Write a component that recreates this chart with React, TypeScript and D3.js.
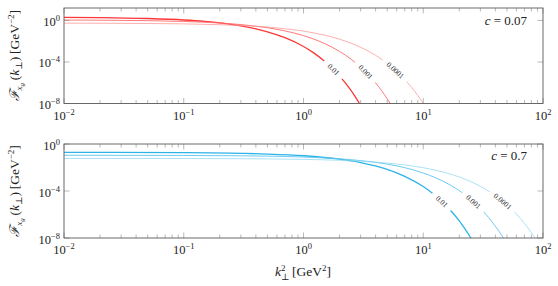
import React, { useRef, useEffect } from "react";
import * as d3 from "d3";

const width = 558;
const height = 286;
const xLeft = 64;
const xRight = 543;
const serif = "'Liberation Serif', 'DejaVu Serif', serif";

// k_perp^2 [GeV^2] and F values, top panel (c = 0.07)
const kTop01 = [0.01, 0.02, 0.05, 0.1, 0.15, 0.2, 0.3, 0.4, 0.5, 0.7, 1, 1.2, 1.5, 1.8, 2, 2.2, 2.5, 2.7, 3, 3.3];
const fTop01 = [2.0, 1.9, 1.54, 1.11, 0.8, 0.58, 0.3, 0.156, 0.081, 0.022, 0.0031, 8.4e-4, 1.17e-4, 1.66e-5, 4.4e-6, 1.21e-6, 1.7e-7, 4.6e-8, 6.5e-9, 9.5e-10];
const kTop001 = [0.01, 0.02, 0.05, 0.1, 0.2, 0.3, 0.4, 0.5, 0.7, 1, 1.2, 1.5, 2, 2.5, 3, 3.5, 4, 4.5, 5, 6];
const fTop001 = [1.1, 1.06, 0.96, 0.8, 0.57, 0.4, 0.28, 0.198, 0.099, 0.0346, 0.0172, 0.006, 0.00105, 1.82e-4, 3.2e-5, 5.5e-6, 9.6e-7, 1.68e-7, 2.9e-8, 8.8e-10];
const kTop0001 = [0.01, 0.02, 0.05, 0.1, 0.2, 0.3, 0.5, 0.7, 1, 1.5, 2, 3, 4, 5, 6, 7, 8, 9, 10, 11];
const fTop0001 = [0.55, 0.54, 0.51, 0.47, 0.39, 0.33, 0.23, 0.16, 0.094, 0.038, 0.0157, 0.0026, 4.4e-4, 7.4e-5, 1.25e-5, 2.1e-6, 3.5e-7, 5.9e-8, 9.8e-9, 1.6e-9];

// bottom panel (c = 0.7)
const kBot01 = [0.01, 0.1, 0.3, 0.5, 1, 2, 3, 5, 7, 10, 12, 15, 17, 20, 22, 25, 28];
const fBot01 = [0.195, 0.182, 0.16, 0.139, 0.0996, 0.051, 0.026, 0.0068, 0.00177, 2.4e-4, 6.2e-5, 8.2e-6, 2.1e-6, 2.9e-7, 7.4e-8, 1.0e-8, 1.3e-9];
const kBot001 = [0.01, 0.1, 0.3, 0.5, 1, 2, 3, 5, 7, 10, 15, 20, 25, 30, 35, 40, 45, 50];
const fBot001 = [0.11, 0.106, 0.099, 0.0925, 0.078, 0.055, 0.0388, 0.0194, 0.0097, 0.0034, 6.0e-4, 1.07e-4, 1.87e-5, 3.3e-6, 5.8e-7, 1.0e-7, 1.8e-8, 3.2e-9];
const kBot0001 = [0.01, 0.1, 0.3, 0.5, 1, 2, 3, 5, 7, 10, 15, 20, 30, 40, 50, 60, 70, 80, 90, 100];
const fBot0001 = [0.059, 0.058, 0.056, 0.054, 0.049, 0.041, 0.034, 0.0238, 0.0165, 0.0096, 0.0039, 0.00156, 2.5e-4, 4.1e-5, 6.6e-6, 1.08e-6, 1.75e-7, 2.8e-8, 4.6e-9, 7.5e-10];

const curveNames = ["0.01", "0.001", "0.0001"];
const labelKTop = [1.78, 3.3, 5.85];
const labelKBot = [14.3, 26.2, 46.0];

const xTicks = [0.01, 0.1, 1, 10, 100];
const xTickExp = ["\u22122", "\u22121", "0", "1", "2"];
const yTicks = [1, 1e-4, 1e-8];
const yTickExp = ["0", "\u22124", "\u22128"];

const redColors = ["#ff3636", "#ff6a6a", "#ff9494"];
const blueColors = ["#2db3e8", "#5ec5ee", "#90d7f3"];
const lineWidths = [1.3, 0.9, 0.75];

const panels = [
  {
    top: 8, bottom: 103.5, yMax: Math.pow(10, 1.2), c: "0.07", cBase: 24.5, tickBase: 120,
    colors: redColors, labelK: labelKTop,
    series: [[kTop01, fTop01], [kTop001, fTop001], [kTop0001, fTop0001]],
  },
  {
    top: 144, bottom: 238, yMax: 1, c: "0.7", cBase: 159.5, tickBase: 254,
    colors: blueColors, labelK: labelKBot,
    series: [[kBot01, fBot01], [kBot001, fBot001], [kBot0001, fBot0001]],
  },
];

// log-log interpolation along the read points
const interp = (ks: number[], fs: number[], k: number) => {
  let i = 0;
  while (i < ks.length - 2 && ks[i + 1] < k) i++;
  const t = (Math.log(k) - Math.log(ks[i])) / (Math.log(ks[i + 1]) - Math.log(ks[i]));
  return Math.exp(Math.log(fs[i]) + t * (Math.log(fs[i + 1]) - Math.log(fs[i])));
};

const App = () => {
  const ref = useRef<SVGSVGElement>(null);

  useEffect(() => {
    const svg = d3.select(ref.current);
    svg.selectAll("*").remove();
    draw(svg);
  }, []);

  const draw = (svg: any) => {
    const x = d3.scaleLog().domain([0.01, 100]).range([xLeft, xRight]);

    panels.forEach((p, pi) => {
      const y = d3.scaleLog().domain([1e-8, p.yMax]).range([p.bottom, p.top]);
      const clipId = "clip" + pi;
      svg.append("clipPath").attr("id", clipId)
        .append("rect")
        .attr("x", xLeft).attr("y", p.top)
        .attr("width", xRight - xLeft).attr("height", p.bottom - p.top);

      const g = svg.append("g");
      const line = d3.line<number[]>()
        .x((d) => x(d[0]))
        .y((d) => y(d[1]))
        .curve(d3.curveMonotoneX);

      p.series.forEach(([ks, fs], i) => {
        g.append("path")
          .datum(ks.map((k, j) => [k, fs[j]]))
          .attr("clip-path", `url(#${clipId})`)
          .attr("fill", "none")
          .attr("stroke", p.colors[i])
          .attr("stroke-width", lineWidths[i])
          .attr("d", line);
      });

      // curve labels cutting the lines
      p.series.forEach(([ks, fs], i) => {
        const kl = p.labelK[i];
        const px = x(kl);
        const py = y(interp(ks, fs, kl));
        const ax = x(kl / 1.1), ay = y(interp(ks, fs, kl / 1.1));
        const bx = x(kl * 1.1), by = y(interp(ks, fs, kl * 1.1));
        const ang = (Math.atan2(by - ay, bx - ax) * 180) / Math.PI;
        const lg = g.append("g").attr("transform", `translate(${px},${py}) rotate(${ang})`);
        const w = curveNames[i].length * 3.5 + 11;
        lg.append("rect").attr("x", -w / 2).attr("y", -4).attr("width", w).attr("height", 8).attr("fill", "#fff");
        lg.append("text")
          .attr("text-anchor", "middle")
          .attr("dy", "0.33em")
          .attr("font-family", serif)
          .attr("font-size", 7.5)
          .attr("fill", "#222")
          .text(curveNames[i]);
      });

      // ticks
      const tk = g.append("g").attr("stroke", "#8a8a8a").attr("stroke-width", 0.6);
      xTicks.forEach((t, i) => {
        if (i < xTicks.length - 1) {
          for (let m = 2; m <= 9; m++) {
            const xx = x(t * m);
            tk.append("line").attr("x1", xx).attr("x2", xx).attr("y1", p.bottom).attr("y2", p.bottom - 3.5);
            tk.append("line").attr("x1", xx).attr("x2", xx).attr("y1", p.top).attr("y2", p.top + 3.5);
          }
        }
        const xx = x(t);
        tk.append("line").attr("x1", xx).attr("x2", xx).attr("y1", p.bottom).attr("y2", p.bottom - 5.5);
        tk.append("line").attr("x1", xx).attr("x2", xx).attr("y1", p.top).attr("y2", p.top + 5.5);
      });
      yTicks.forEach((t) => {
        const yy = y(t);
        tk.append("line").attr("x1", xLeft).attr("x2", xLeft + 5.5).attr("y1", yy).attr("y2", yy);
        tk.append("line").attr("x1", xRight).attr("x2", xRight - 5.5).attr("y1", yy).attr("y2", yy);
      });

      g.append("rect")
        .attr("x", xLeft).attr("y", p.top)
        .attr("width", xRight - xLeft).attr("height", p.bottom - p.top)
        .attr("fill", "none").attr("stroke", "#5a5a5a").attr("stroke-width", 0.9);

      // tick labels
      xTicks.forEach((t, i) => {
        const tx = g.append("text")
          .attr("x", x(t)).attr("y", p.tickBase)
          .attr("text-anchor", "middle")
          .attr("font-family", serif).attr("font-size", 12.5).attr("fill", "#222");
        tx.append("tspan").text("10");
        tx.append("tspan").attr("dy", -5).attr("font-size", 8.5).text(xTickExp[i]);
      });
      yTicks.forEach((t, i) => {
        const ty = g.append("text")
          .attr("x", 60).attr("y", y(t) + 5.5)
          .attr("text-anchor", "end")
          .attr("font-family", serif).attr("font-size", 12.5).attr("fill", "#222");
        ty.append("tspan").text("10");
        ty.append("tspan").attr("dy", -5).attr("font-size", 8.5).text(yTickExp[i]);
      });

      // c label
      const ct = g.append("text")
        .attr("x", 527).attr("y", p.cBase)
        .attr("text-anchor", "end")
        .attr("font-family", serif).attr("font-size", 13).attr("fill", "#222");
      ct.append("tspan").attr("font-style", "italic").text("c");
      ct.append("tspan").text(" = " + p.c);

      // y axis label
      const cy = (p.top + p.bottom) / 2;
      const yl = g.append("text")
        .attr("transform", `translate(19,${cy}) rotate(-90)`)
        .attr("text-anchor", "middle")
        .attr("font-family", serif).attr("font-size", 13.5).attr("fill", "#222");
      yl.append("tspan").attr("font-style", "italic").text("\u2131");
      yl.append("tspan").attr("dy", 3).attr("font-size", 9).attr("font-style", "italic").text("x");
      yl.append("tspan").attr("dy", 1.5).attr("font-size", 7).attr("font-style", "italic").text("g");
      yl.append("tspan").attr("dy", -4.5).text("\u2009(");
      yl.append("tspan").attr("font-style", "italic").text("k");
      yl.append("tspan").attr("dy", 2.5).attr("font-size", 9).text("\u22a5");
      yl.append("tspan").attr("dy", -2.5).text(")\u2009[GeV");
      yl.append("tspan").attr("dy", -5).attr("font-size", 9).text("\u22122");
      yl.append("tspan").attr("dy", 5).text("]");
    });

    // x axis label
    const xl = svg.append("text")
      .attr("x", 303).attr("y", 276)
      .attr("text-anchor", "middle")
      .attr("font-family", serif).attr("font-size", 13.5).attr("fill", "#222");
    xl.append("tspan").attr("font-style", "italic").text("k");
    xl.append("tspan").attr("dy", -5.5).attr("font-size", 9).text("2");
    xl.append("tspan").attr("dx", -4.5).attr("dy", 9).attr("font-size", 9).text("\u22a5");
    xl.append("tspan").attr("dy", -3.5).text("\u2009[GeV");
    xl.append("tspan").attr("dy", -5).attr("font-size", 9).text("2");
    xl.append("tspan").attr("dy", 5).text("]");
  };

  return (
    <svg
      ref={ref}
      width={width}
      height={height}
      style={{ position: "absolute", left: 0, top: 0, background: "#fff" }}
    ></svg>
  );
};

export default App;
